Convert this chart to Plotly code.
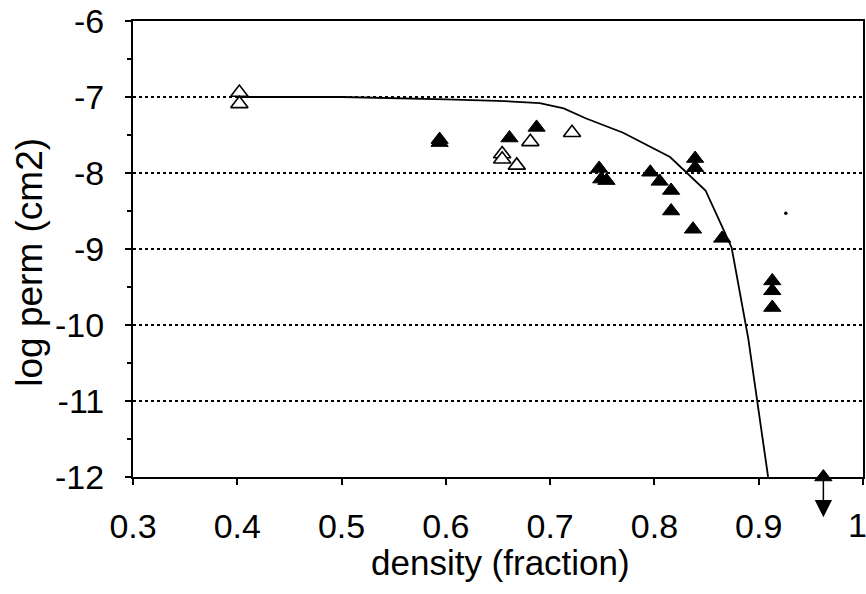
import plotly.graph_objects as go

# Model curve
curve_x = [0.40, 0.50, 0.60, 0.65, 0.69, 0.713, 0.734, 0.770, 0.815, 0.849, 0.866, 0.874, 0.890, 0.909]
curve_y = [-7.00, -7.00, -7.03, -7.05, -7.08, -7.15, -7.28, -7.47, -7.79, -8.23, -8.74, -8.98, -10.18, -12.0]

# Open triangles
open_x = [0.402, 0.402, 0.654, 0.654, 0.668, 0.681, 0.721]
open_y = [-6.94, -7.09, -7.75, -7.82, -7.90, -7.59, -7.47]

# Filled triangles
filled_x = [0.594, 0.594, 0.661, 0.687, 0.747, 0.749, 0.754, 0.839, 0.839,
            0.796, 0.805, 0.816, 0.816, 0.837, 0.865, 0.913, 0.913, 0.913, 0.962]
filled_y = [-7.56, -7.60, -7.54, -7.40, -7.94, -8.08, -8.10, -7.81, -7.93,
            -7.99, -8.11, -8.23, -8.50, -8.74, -8.86, -9.42, -9.55, -9.77, -12.0]

# Off-scale point (below -12): arrow from -12 down to the tip value
down_x = [0.962]
down_tip_y = [-12.53]
down_from_y = [-12.0]

# Speck
speck_x = [0.926]
speck_y = [-8.53]

x_ticks = [0.3, 0.4, 0.5, 0.6, 0.7, 0.8, 0.9, 1.0]
x_ticktext = ["0.3", "0.4", "0.5", "0.6", "0.7", "0.8", "0.9", "1"]
y_ticks = [-6, -7, -8, -9, -10, -11, -12]
y_ticktext = ["-6", "-7", "-8", "-9", "-10", "-11", "-12"]

FONT = "Liberation Sans, Arial, sans-serif"

fig = go.Figure()
fig.add_trace(go.Scatter(x=curve_x, y=curve_y, mode="lines",
                         line=dict(color="black", width=1.8), showlegend=False))
fig.add_trace(go.Scatter(x=filled_x, y=filled_y, mode="markers", cliponaxis=False,
                         marker=dict(symbol="triangle-up", size=15, color="black",
                                     line=dict(color="black", width=1)),
                         showlegend=False))
fig.add_trace(go.Scatter(x=open_x, y=open_y, mode="markers", cliponaxis=False,
                         marker=dict(symbol="triangle-up", size=15, color="white",
                                     line=dict(color="black", width=1.6)),
                         showlegend=False))
fig.add_trace(go.Scatter(x=speck_x, y=speck_y, mode="markers",
                         marker=dict(symbol="circle", size=3.5, color="black"),
                         showlegend=False))

for xv, y0, y1 in zip(down_x, down_from_y, down_tip_y):
    fig.add_annotation(x=xv, y=y1, ax=xv, ay=y0, xref="x", yref="y",
                       axref="x", ayref="y", showarrow=True, arrowhead=2,
                       arrowsize=2.3, arrowwidth=1.5, arrowcolor="black", text="")

# the last tick label sits at the page edge: draw it right-anchored so it stays whole
shown_ticktext = x_ticktext[:-1] + [""]
fig.add_annotation(text=x_ticktext[-1], xref="x", yref="paper",
                   x=x_ticks[-1], xshift=5, y=-0.105, xanchor="right", yanchor="middle",
                   showarrow=False, borderpad=0,
                   font=dict(family=FONT, size=34, color="black"))

fig.add_annotation(text="log perm (cm2)", xref="paper", yref="paper",
                   x=-0.141, y=0.47, xanchor="center", yanchor="middle",
                   textangle=-90, showarrow=False,
                   font=dict(family=FONT, size=37, color="black"))
fig.add_annotation(text="density (fraction)", xref="paper", yref="paper",
                   x=0.503, y=-0.188, xanchor="center", yanchor="middle",
                   showarrow=False,
                   font=dict(family=FONT, size=35, color="black"))

fig.update_xaxes(range=[0.3, 1.0], tickvals=x_ticks, ticktext=shown_ticktext,
                 showgrid=False, zeroline=False, automargin=False,
                 showline=True, linecolor="black", linewidth=2, mirror=True,
                 ticks="outside", ticklen=6, tickwidth=2, tickcolor="black",
                 ticklabelstandoff=12,
                 tickfont=dict(family=FONT, size=34, color="black"))
fig.update_yaxes(range=[-12, -6], tickvals=y_ticks, ticktext=y_ticktext,
                 showgrid=True, gridcolor="black", griddash="dot", gridwidth=1.5,
                 zeroline=False, automargin=False,
                 showline=True, linecolor="black", linewidth=2, mirror=True,
                 ticks="outside", ticklen=6, tickwidth=2, tickcolor="black",
                 ticklabelstandoff=14, ticklabeloverflow="allow",
                 minor=dict(dtick=0.5, ticks="outside", ticklen=4, tickwidth=1.5,
                            tickcolor="black", showgrid=False),
                 tickfont=dict(family=FONT, size=34, color="black"))

fig.update_layout(width=866, height=594,
                  margin=dict(l=133, r=3, t=21, b=117),
                  paper_bgcolor="white", plot_bgcolor="white")

fig.write_html("out.html")
